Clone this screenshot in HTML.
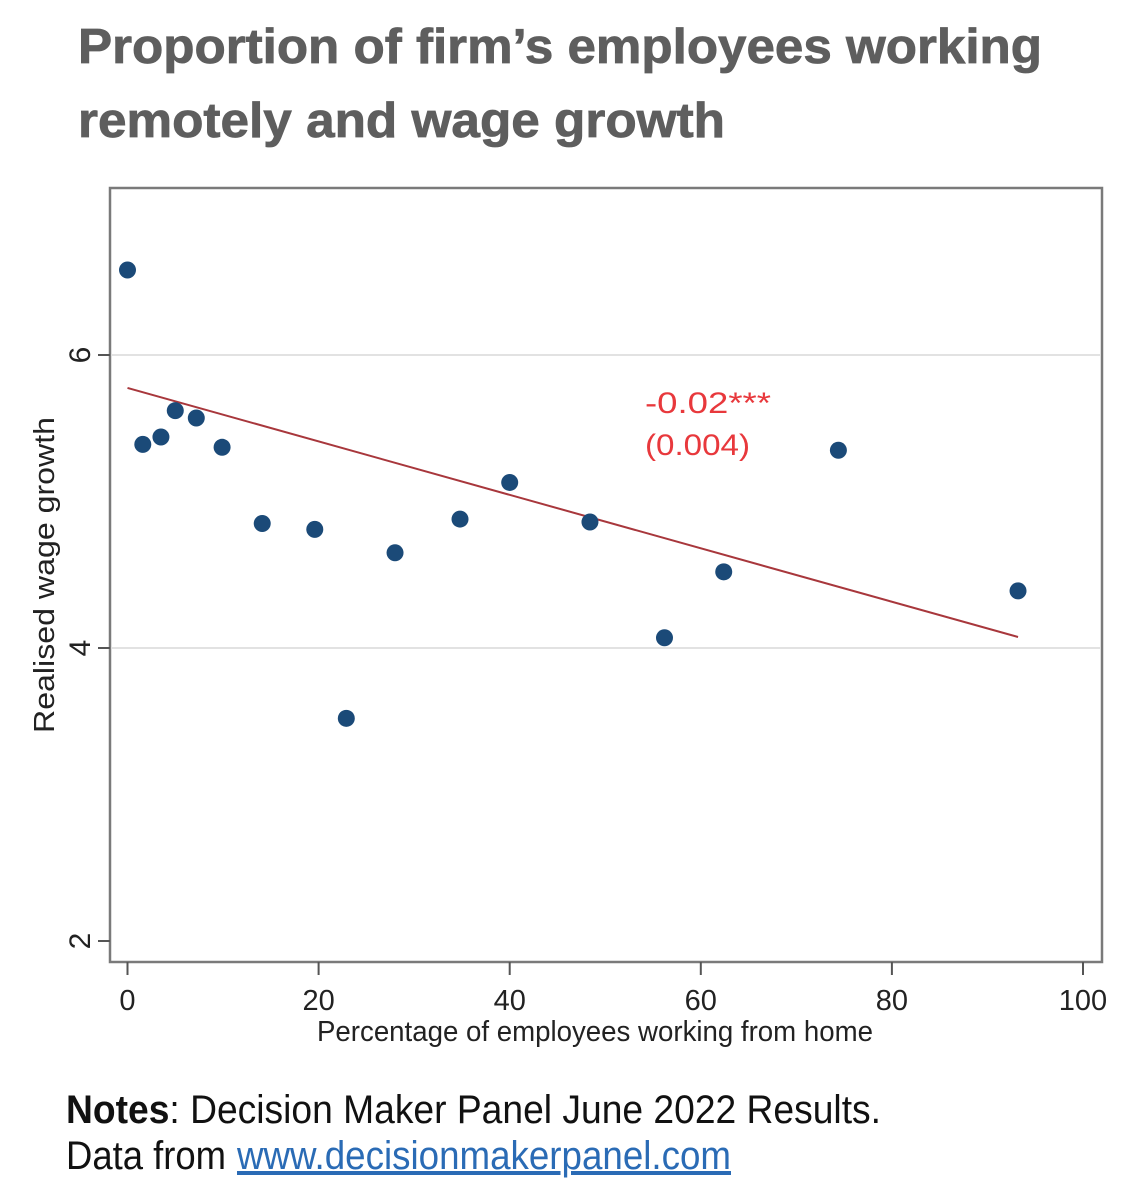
<!DOCTYPE html>
<html><head><meta charset="utf-8">
<style>
html,body{margin:0;padding:0;background:#fff;}
svg{display:block;}
</style></head>
<body>
<svg id="chart" width="1144" height="1200" viewBox="0 0 1144 1200" xmlns="http://www.w3.org/2000/svg" font-family="'Liberation Sans', sans-serif">
  <text x="78" y="63" font-size="49" font-weight="bold" fill="#5e5e5e" stroke="#5e5e5e" stroke-width="0.8" textLength="964" lengthAdjust="spacingAndGlyphs">Proportion of firm’s employees working</text>
  <text x="78" y="137" font-size="49" font-weight="bold" fill="#5e5e5e" stroke="#5e5e5e" stroke-width="0.8" textLength="647" lengthAdjust="spacingAndGlyphs">remotely and wage growth</text>
  <g id="grid"></g>
  <rect x="110" y="188" width="992" height="774" fill="none" stroke="#7a7a7a" stroke-width="2.5"/>
  <g id="axes"></g>
  <g id="marks"></g>
  <text x="645" y="413" font-size="30" fill="#e8383c" textLength="126" lengthAdjust="spacingAndGlyphs">-0.02***</text>
  <text x="645" y="455" font-size="30" fill="#e8383c" textLength="105" lengthAdjust="spacingAndGlyphs">(0.004)</text>
  <text x="595" y="1041" font-size="29" fill="#222" text-anchor="middle" textLength="556" lengthAdjust="spacingAndGlyphs">Percentage of employees working from home</text>
  <text transform="translate(54,575) rotate(-90)" font-size="29" fill="#222" text-anchor="middle" textLength="316" lengthAdjust="spacingAndGlyphs">Realised wage growth</text>
  <text x="66" y="1123" font-size="40" fill="#111" textLength="815" lengthAdjust="spacingAndGlyphs"><tspan font-weight="bold">Notes</tspan>: Decision Maker Panel June 2022 Results.</text>
  <text x="66" y="1169" font-size="40" fill="#111" textLength="160" lengthAdjust="spacingAndGlyphs">Data from</text>
  <text x="237" y="1169" font-size="40" fill="#2a6bb5" text-decoration="underline" textLength="494" lengthAdjust="spacingAndGlyphs">www.decisionmakerpanel.com</text>
</svg>
<script>
const xValues = [0, 1.6, 3.5, 5.0, 7.2, 9.9, 14.1, 19.6, 22.9, 28.0, 34.8, 40.0, 48.4, 56.2, 62.4, 74.4, 93.2];
const yValues = [6.58, 5.39, 5.44, 5.62, 5.57, 5.37, 4.85, 4.81, 3.52, 4.65, 4.88, 5.13, 4.86, 4.07, 4.52, 5.35, 4.39];
const fitX = [0, 93.2];
const fitY = [5.775, 4.075];
const xTicks = [0, 20, 40, 60, 80, 100];
const yTicks = [2, 4, 6];

const NS = 'http://www.w3.org/2000/svg';
function sx(v){ return 127.5 + v * 9.555; }
function sy(v){ return 355 - (v - 6) * 146.5; }
function mk(tag, attrs, parent){
  const e = document.createElementNS(NS, tag);
  for (const k in attrs) e.setAttribute(k, attrs[k]);
  parent.appendChild(e);
  return e;
}
const grid = document.getElementById('grid');
const axes = document.getElementById('axes');
const marks = document.getElementById('marks');

yTicks.forEach(t => {
  if (t !== 2) {
    const g = mk('line', {x1:112, x2:1100, y1:sy(t), y2:sy(t), stroke:'#e2e2e2', 'stroke-width':2}, grid);
    
    
  }
  const tk = mk('line', {x1:98, x2:110, y1:sy(t), y2:sy(t), stroke:'#555', 'stroke-width':2}, axes);
  
  
  const lb = mk('text', {transform:'translate(' + 90 + ',' + sy(t) + ') rotate(-90)', 'font-size':30, fill:'#222', 'text-anchor':'middle'}, axes);
  lb.textContent = t;
  
  
});
xTicks.forEach(t => {
  const tk = mk('line', {x1:sx(t), x2:sx(t), y1:962, y2:975, stroke:'#555', 'stroke-width':2}, axes);
  
  
  const lb = mk('text', {x:sx(t), y:1010, 'font-size':29, fill:'#222', 'text-anchor':'middle'}, axes);
  lb.textContent = t;
  
  
});
const fit = mk('line', {x1:sx(fitX[0]), y1:sy(fitY[0]), x2:sx(fitX[1]), y2:sy(fitY[1]), stroke:'#a8373c', 'stroke-width':2}, marks);


xValues.forEach((x, i) => {
  const c = mk('circle', {cx:sx(x), cy:sy(yValues[i]), r:8.5, fill:'#1b4a78'}, marks);
  
  
});
</script>
</body></html>
